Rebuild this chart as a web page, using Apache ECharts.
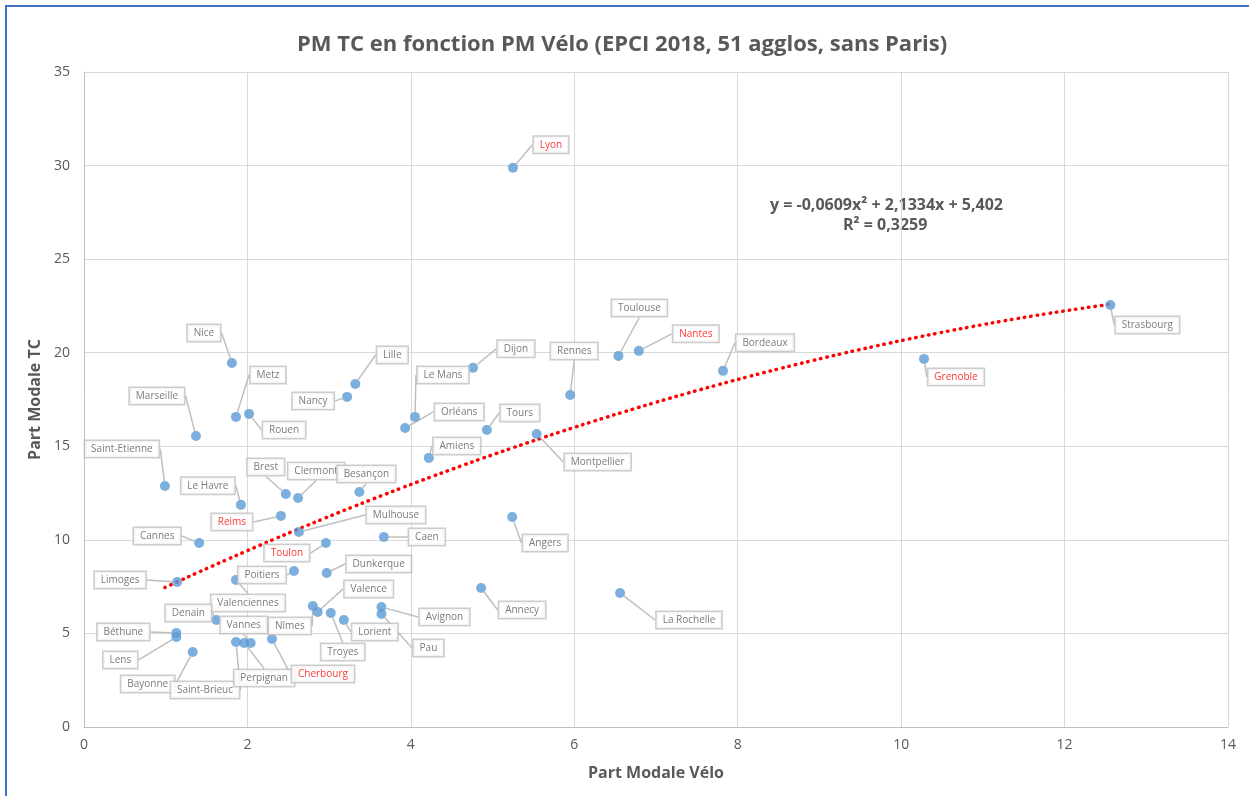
<!DOCTYPE html>
<html>
<head>
<meta charset="utf-8">
<script src="https://cdn.jsdelivr.net/npm/echarts@6/dist/echarts.min.js"></script>
<style>html,body{margin:0;padding:0;background:#fff}#c{width:1249px;height:796px}</style>
</head>
<body>
<div id="c"></div>
<script>
const cities = ["Lyon","Strasbourg","Grenoble","Bordeaux","Nantes","Toulouse","Rennes","Montpellier","Tours","Dijon",
"Le Mans","Orléans","Amiens","Angers","Annecy","La Rochelle","Lille","Nancy","Nice","Metz",
"Rouen","Marseille","Saint-Etienne","Le Havre","Reims","Brest","Clermont","Besançon","Mulhouse","Caen",
"Cannes","Toulon","Limoges","Poitiers","Dunkerque","Valenciennes","Denain","Nîmes","Valence","Troyes",
"Lorient","Avignon","Pau","Béthune","Lens","Bayonne","Saint-Brieuc","Perpignan","Vannes","Cherbourg"];
const partVelo = [5.25,12.56,10.28,7.82,6.79,6.54,5.95,5.54,4.93,4.76,
4.05,3.93,4.22,5.24,4.86,6.56,3.32,3.22,1.81,1.86,
2.02,1.37,0.99,1.92,2.41,2.47,2.62,3.37,2.63,3.67,
1.41,2.96,1.14,2.57,2.97,1.86,1.62,2.80,2.86,3.02,
3.18,3.64,3.64,1.13,1.13,1.33,1.86,1.96,2.04,2.30];
const partTC = [29.88,22.55,19.67,19.03,20.10,19.83,17.74,15.66,15.87,19.19,
16.57,15.98,14.38,11.22,7.43,7.16,18.33,17.64,19.45,16.57,
16.73,15.55,12.88,11.87,11.28,12.45,12.24,12.56,10.42,10.15,
9.83,9.83,7.75,8.34,8.23,7.86,5.72,6.47,6.15,6.09,
5.72,6.41,6.04,5.02,4.81,4.01,4.54,4.49,4.49,4.70];
const redCities = ["Lyon","Nantes","Grenoble","Reims","Toulon","Cherbourg"];
// label box offsets (px) relative to each point
const labelDx = [38,37,32,42,57,21,4,61,33,43, 28,54,28,33,41,69,37,-34,-28,32, 35,-39,-43,-33,-49,-20,18,7,97,43, -42,-39,-57,-32,52,12,-28,-23,51,12, 31,63,47,-53,-56,-45,-31,20,-7,51];
const labelDy = [-23,20,18,-28,-17,-48,-44,28,-17,-19, -42,-16,-12,26,22,27,-29,4,-30,-42, 16,-40,-37,-19,6,-27,-27,-18,-17,0, -7,10,-2,4,-9,23,-7,20,-23,39, 12,10,34,-1,23,32,48,35,-18,35];
const trendCoef = [-0.0609, 2.1334, 5.402]; // a, b, c
const xTicks = [0,2,4,6,8,10,12,14];
const yTicks = [0,5,10,15,20,25,30,35];

const pts = cities.map((n,i)=>({name:n, value:[partVelo[i], partTC[i]],
  label:{color: redCities.includes(n) ? '#ff0000' : '#595959'}}));
const xmin = Math.min(...partVelo), xmax = Math.max(...partVelo);
const trend = [];
for (let k=0;k<=60;k++){ const x = xmin + (xmax-xmin)*k/60; trend.push([x, trendCoef[0]*x*x + trendCoef[1]*x + trendCoef[2]]); }

const chart = echarts.init(document.getElementById('c'));
const FONT = '"Open Sans", "Liberation Sans", sans-serif';
chart.setOption({
  animation:false,
  backgroundColor:'#fff',
  textStyle:{fontFamily:FONT},
  title:{text:'PM TC en fonction PM Vélo (EPCI 2018, 51 agglos, sans Paris)', left:292, top:29,
    textStyle:{fontSize:22, fontWeight:'bold', color:'#595959', fontFamily:FONT}},
  grid:{left:84, right:21, top:72, bottom:69},
  xAxis:{type:'value', min:0, max:14, interval:2, name:'Part Modale Vélo', nameLocation:'middle', nameGap:38,
    nameTextStyle:{fontSize:16, fontWeight:'bold', color:'#595959'},
    axisLine:{show:true, lineStyle:{color:'#bfbfbf'}}, axisTick:{show:false},
    axisLabel:{color:'#595959', fontSize:14, margin:11},
    splitLine:{show:true, lineStyle:{color:'#d9d9d9'}}},
  yAxis:{type:'value', min:0, max:35, interval:5, name:'Part Modale TC', nameLocation:'middle', nameGap:36,
    nameTextStyle:{fontSize:16, fontWeight:'bold', color:'#595959'},
    axisLine:{show:true, lineStyle:{color:'#bfbfbf'}}, axisTick:{show:false},
    axisLabel:{color:'#595959', fontSize:14, margin:14},
    splitLine:{show:true, lineStyle:{color:'#d9d9d9'}}},
  graphic:[
    {type:'rect', shape:{x:6, y:6, width:1260, height:800}, style:{fill:'none', stroke:'#4472c4', lineWidth:2}, silent:true},
    {type:'text', left:770, top:197, style:{text:'y = -0,0609x² + 2,1334x + 5,402', fontSize:16, fontWeight:'bold', fill:'#595959', fontFamily:FONT}},
    {type:'text', left:843, top:217, style:{text:'R² = 0,3259', fontSize:16, fontWeight:'bold', fill:'#595959', fontFamily:FONT}}
  ],
  series:[
    {type:'line', data:trend, showSymbol:false, smooth:true, z:3,
      lineStyle:{color:'#ff0000', width:3.5, type:[0.5,6], cap:'round'}},
    {type:'scatter', data:pts, symbolSize:10, z:5,
      itemStyle:{color:'#5b9bd5'},
      label:{show:true, position:'inside', formatter:'{b}', fontSize:10, color:'#595959',
        backgroundColor:'#fff', borderColor:'#bfbfbf', borderWidth:1.5, padding:[3,6,3,6]},
      labelLine:{show:true, lineStyle:{color:'#bfbfbf', width:1.5}},
      labelLayout:function(p){ return {dx:labelDx[p.dataIndex], dy:labelDy[p.dataIndex]}; }
    }
  ]
});
</script>
</body>
</html>
